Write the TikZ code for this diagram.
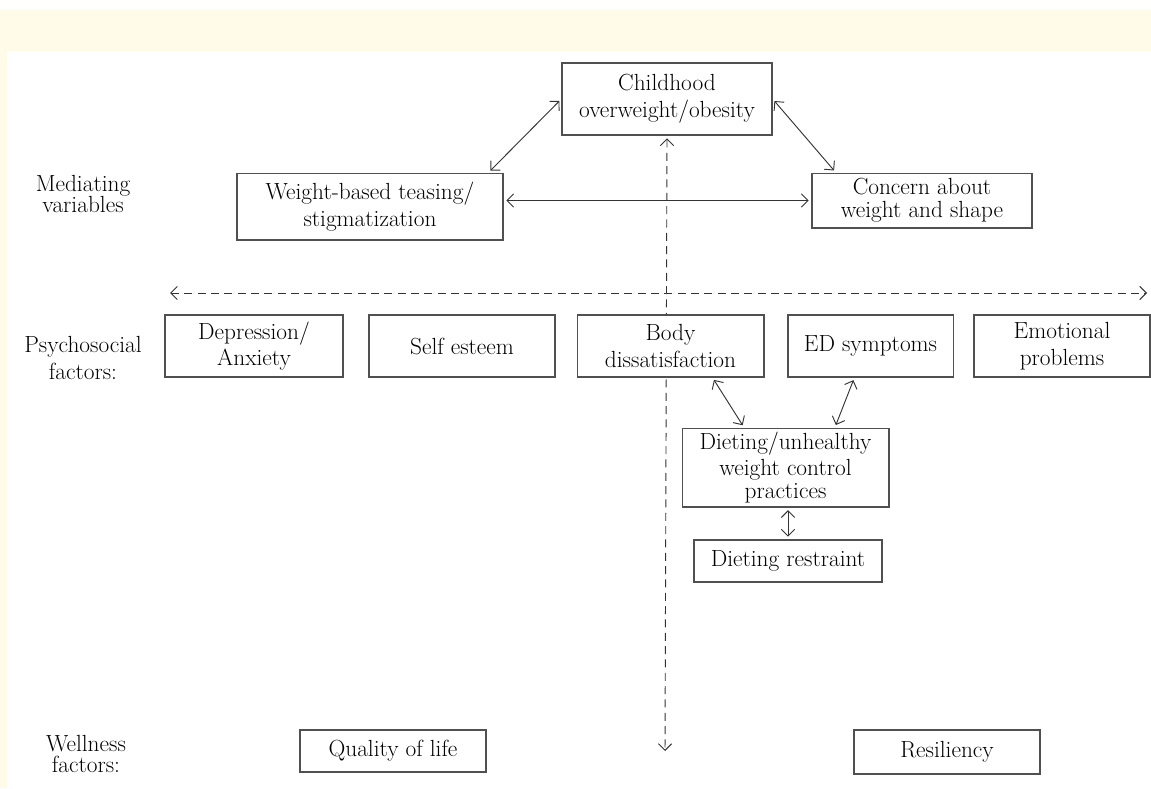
\documentclass[tikz,border=0pt]{standalone}
\usepackage{tikz}
\usetikzlibrary{arrows.meta,backgrounds}
\definecolor{bandyellow}{HTML}{FFFBE8}
\definecolor{boxgray}{HTML}{505050}
\definecolor{linegray}{HTML}{333333}

\begin{document}
\begin{tikzpicture}[x=0.75pt,y=-0.75pt,font=\fontsize{17.5}{20}\selectfont,
box/.style={draw=boxgray,line width=1pt,fill=white,align=center,inner sep=1pt,minimum height=46.5pt},
lbl/.style={align=center,inner sep=0pt},
barb/.tip={Straight Barb[length=5pt,width=10pt]},
link/.style={barb-barb,line width=0.7pt,draw=linegray,shorten <=2pt,shorten >=2pt},
axis/.style={barb-barb,line width=0.7pt,draw=linegray,dash pattern=on 6pt off 4pt}]
\useasboundingbox (0,0) rectangle (1151,788);
\node[box,minimum width=157.5pt,minimum height=54pt] (child) at (667,99) {Childhood\\overweight/obesity};
\node[box,minimum width=199.5pt,minimum height=50pt] (tease) at (370,206.5) {Weight-based teasing/\\stigmatization};
\node[box,minimum width=165pt,minimum height=41pt] (concern) at (922,200.5) {Concern about\\[-3pt]weight and shape};
\node[box,minimum width=133.5pt] (dep) at (254,346) {Depression/\\Anxiety};
\node[box,minimum width=139.5pt] (self) at (462,346) {Self esteem};
\node[box,minimum width=140pt] (body) at (670.5,346) {Body\\dissatisfaction};
\node[box,minimum width=124pt] (ed) at (870.5,346) {ED symptoms};
\node[box,minimum width=132pt] (emo) at (1062,346) {Emotional\\problems};
\node[box,minimum width=155pt,minimum height=59pt] (diet) at (785.5,467.5) {Dieting/unhealthy\\weight control\\[-3pt]practices};
\node[box,minimum width=141pt,minimum height=31.5pt] (restr) at (788,561) {Dieting restraint};
\node[box,minimum width=139.5pt,minimum height=31.5pt] (qol) at (393,751) {Quality of life};
\node[box,minimum width=139.5pt,minimum height=33pt] (resil) at (947,752) {Resiliency};
% row labels
\node[lbl] (medlbl) at (83,194) {Mediating\\[-4pt]variables};
\node[lbl] (psylbl) at (83,358) {Psychosocial\\factors:};
\node[lbl] (wellbl) at (86,754) {Wellness\\[-4pt]factors:};
\coordinate (pl) at (170,293);
\coordinate (pr) at (1147,293);
\coordinate (vb) at (665,751);
\draw[link] (child.west) -- (tease.16);
\draw[link] (child.east) -- (concern.162);
\draw[link] (tease.east |- concern.west) -- (concern.west);
\draw[link] (body.-37) -- (diet.136);
\draw[link] (ed.-117) -- (diet.39);
\draw[link] (restr.north |- diet.south) -- (restr.north);
\begin{scope}[on background layer]
\fill[bandyellow] (0,10) rectangle (1151,51);
\fill[bandyellow] (0,51) rectangle (7,788);
\draw[axis] (pl) -- (pr);
\draw[axis,shorten <=2pt] (child.south) -- (vb);
\end{scope}
\end{tikzpicture}
\end{document}
